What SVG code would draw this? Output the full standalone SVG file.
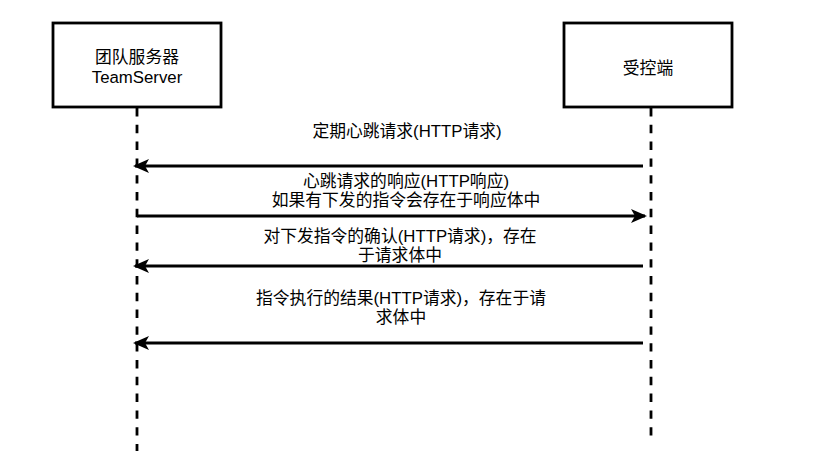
<svg xmlns="http://www.w3.org/2000/svg" width="831" height="451" viewBox="0 0 831 451">
<defs>
<style>
.box{fill:#fff;stroke:#000;stroke-width:2.8}
.life{stroke:#000;stroke-width:2.8;stroke-dasharray:8.4 8.4;fill:none}
.msg{stroke:#000;stroke-width:2.8;fill:none}
text{font-family:"Liberation Sans","Noto Sans CJK SC",sans-serif;font-size:16.8px;fill:#000;text-anchor:middle}
</style>
<marker id="arr" viewBox="0 0 16 14" refX="14" refY="7" markerWidth="16" markerHeight="14" markerUnits="userSpaceOnUse" orient="auto">
<path d="M0,0 L16,7 L0,14 L4,7 Z" fill="#000"/>
</marker>
</defs>
<rect width="831" height="451" fill="#fff"/>
<g id="lifelines">
<line class="life" x1="137" y1="108" x2="137" y2="451"/>
<line class="life" x1="651" y1="108" x2="651" y2="440"/>
</g>
<g id="teamserver">
<rect class="box" x="53" y="23" width="168" height="84"/>
<text x="137" y="63">团队服务器</text>
<text x="137" y="83">TeamServer</text>
</g>
<g id="client">
<rect class="box" x="564" y="23" width="168" height="84"/>
<text x="648" y="74">受控端</text>
</g>
<g id="connectors">
<line class="msg" x1="643" y1="166" x2="135" y2="166" marker-end="url(#arr)"/>
<line class="msg" x1="137" y1="216" x2="645" y2="216" marker-end="url(#arr)"/>
<line class="msg" x1="643" y1="266" x2="135" y2="266" marker-end="url(#arr)"/>
<line class="msg" x1="643" y1="343" x2="135" y2="343" marker-end="url(#arr)"/>
</g>
<g id="labels">
<text x="407" y="137">定期心跳请求(HTTP请求)</text>
<text x="406" y="187">心跳请求的响应(HTTP响应)</text>
<text x="406" y="206">如果有下发的指令会存在于响应体中</text>
<text x="400" y="242">对下发指令的确认(HTTP请求)，存在</text>
<text x="400" y="261">于请求体中</text>
<text x="401" y="304">指令执行的结果(HTTP请求)，存在于请</text>
<text x="401" y="323">求体中</text>
</g>
</svg>
